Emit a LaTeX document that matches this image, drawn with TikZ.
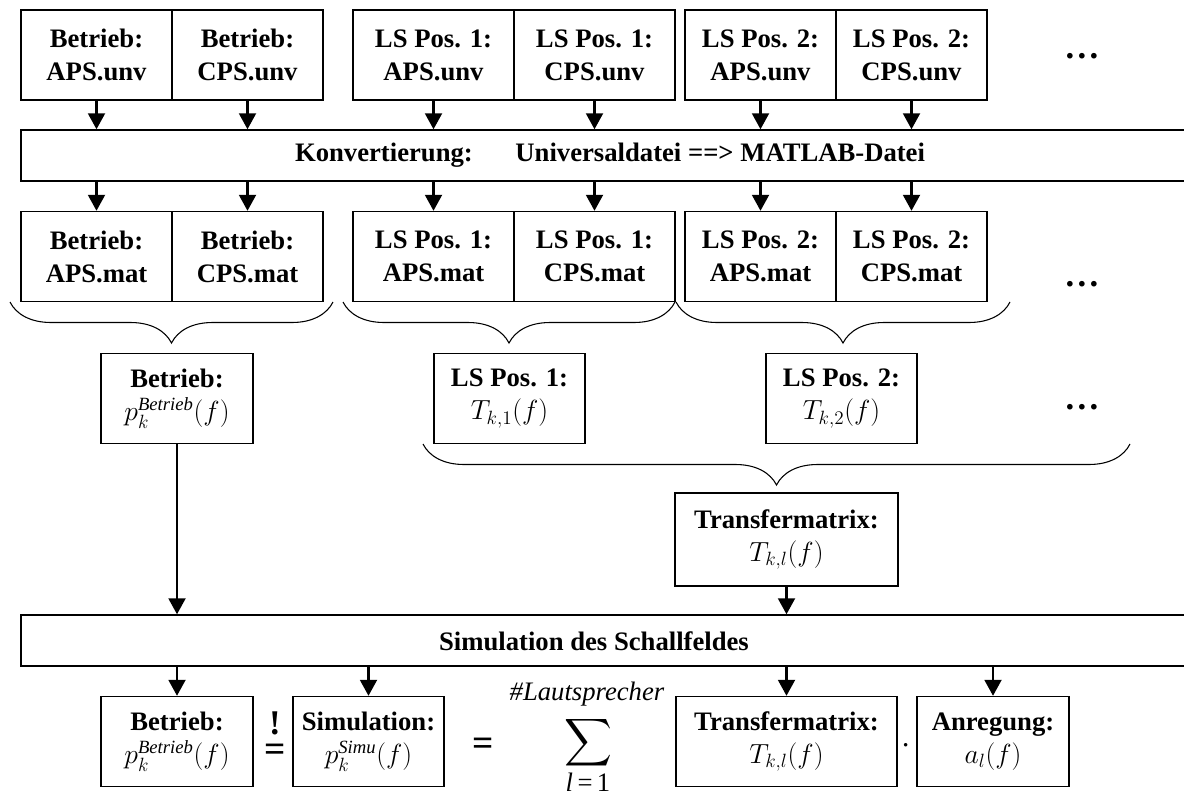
\documentclass[tikz,border=0pt]{standalone}
\usepackage{amsmath}
\usepackage{fontspec}
\setmainfont{Liberation Serif}
\usetikzlibrary{arrows.meta,decorations.pathreplacing}

\newcommand{\diafont}{\fontsize{20}{24.75}\selectfont}
\newcommand{\ldotsbig}{{\fontsize{26}{26}\selectfont\bfseries .\kern2.5pt.\kern2.5pt.}}
\tikzset{
  cell/.style={draw, line width=1pt, minimum height=67.5pt, inner sep=0pt, align=center, font=\diafont\bfseries},
  bar/.style={draw, line width=1pt, minimum width=883.5pt, minimum height=38.25pt, inner sep=0pt},
  arr/.style={line width=2.2pt, -{Triangle[width=12.5pt,length=12pt]}},
  brc/.style={decorate, decoration={brace, amplitude=30.75pt}, line width=0.8pt},
  sym/.style={inner sep=0pt},
}

\begin{document}
\begin{tikzpicture}[x=0.75pt,y=0.75pt,yscale=-1,xscale=1, font=\diafont]
\clip (0,0) rectangle (1184,796);

% Universal files
\node[cell, minimum width=113.25pt] (aunv1) at (96.5,55) {Betrieb:\\APS.unv};
\node[cell, minimum width=113.25pt] (cunv1) at (247.5,55) {Betrieb:\\CPS.unv};
\node[cell, minimum width=120.75pt] (aunv2) at (433.5,55) {LS Pos. 1:\\APS.unv};
\node[cell, minimum width=120.75pt] (cunv2) at (594.5,55) {LS Pos. 1:\\CPS.unv};
\node[cell, minimum width=113.25pt] (aunv3) at (760.5,55) {LS Pos. 2:\\APS.unv};
\node[cell, minimum width=113.25pt] (cunv3) at (911.5,55) {LS Pos. 2:\\CPS.unv};
% Text Node
\node[sym] (dotsa) at (1082,56) {\ldotsbig};

% Conversion bar
\node[bar] (konv) at (610,155.5) {};
% Text Node
\node (konvtxt) at (610,155.5) {\bfseries Konvertierung:\hspace{1.6em}Universaldatei ==> MATLAB-Datei};

% MATLAB files
\node[cell, minimum width=113.25pt] (amat1) at (96.5,256.5) {Betrieb:\\APS.mat};
\node[cell, minimum width=113.25pt] (cmat1) at (247.5,256.5) {Betrieb:\\CPS.mat};
\node[cell, minimum width=120.75pt] (amat2) at (433.5,256.5) {LS Pos. 1:\\APS.mat};
\node[cell, minimum width=120.75pt] (cmat2) at (594.5,256.5) {LS Pos. 1:\\CPS.mat};
\node[cell, minimum width=113.25pt] (amat3) at (760.5,256.5) {LS Pos. 2:\\APS.mat};
\node[cell, minimum width=113.25pt] (cmat3) at (911.5,256.5) {LS Pos. 2:\\CPS.mat};
% Text Node
\node[sym] (dotsb) at (1082,284) {\ldotsbig};

%Straight Lines
\draw[arr] (aunv1.south) -- (aunv1.south |- konv.north);
\draw[arr] (cunv1.south) -- (cunv1.south |- konv.north);
\draw[arr] (aunv2.south) -- (aunv2.south |- konv.north);
\draw[arr] (cunv2.south) -- (cunv2.south |- konv.north);
\draw[arr] (aunv3.south) -- (aunv3.south |- konv.north);
\draw[arr] (cunv3.south) -- (cunv3.south |- konv.north);
\draw[arr] (amat1.north |- konv.south) -- (amat1.north);
\draw[arr] (cmat1.north |- konv.south) -- (cmat1.north);
\draw[arr] (amat2.north |- konv.south) -- (amat2.north);
\draw[arr] (cmat2.north |- konv.south) -- (cmat2.north);
\draw[arr] (amat3.north |- konv.south) -- (amat3.north);
\draw[arr] (cmat3.north |- konv.south) -- (cmat3.north);

%Shape: Brace
\draw[brc] (333,302) -- (10,302);
\draw[brc] (675,302) -- (343,302);
\draw[brc] (1010,302) -- (676,302);

% Spectra and transfer functions
\node[cell, minimum width=114pt] (pbet) at (177,398.5) {Betrieb:\\$p_k^{\mathit{Betrieb}}(f)$};
\node[cell, minimum width=113.25pt] (tls1) at (509.5,398.5) {LS Pos. 1:\\$T_{k,1}(f)$};
\node[cell, minimum width=113.25pt] (tls2) at (841.5,398.5) {LS Pos. 2:\\$T_{k,2}(f)$};
% Text Node
\node[sym] (dotsc) at (1082,407) {\ldotsbig};

%Shape: Brace
\draw[brc] (1130,444) -- (423,444);

\node[cell, minimum width=167.25pt, minimum height=69.75pt] (tmat) at (786.5,539.5) {Transfermatrix:\\$T_{k,l}(f)$};

% Simulation bar
\node[bar] (sim) at (610,640.5) {};
% Text Node
\node (simtxt) at (594,641) {\bfseries Simulation des Schallfeldes};

%Straight Lines
\draw[arr] (pbet.south) -- (pbet.south |- sim.north);
\draw[arr] (tmat.south) -- (tmat.south |- sim.north);

% Result
\node[cell, minimum width=114pt] (pbetb) at (177,741.5) {Betrieb:\\$p_k^{\mathit{Betrieb}}(f)$};
\node[cell, minimum width=113.25pt] (psim) at (368.5,741.5) {Simulation:\\$p_k^{\mathit{Simu}}(f)$};
\node[cell, minimum width=165.75pt] (tmatb) at (786.5,741.5) {Transfermatrix:\\$T_{k,l}(f)$};
\node[cell, minimum width=114pt] (anr) at (993,741.5) {Anregung:\\$a_l(f)$};

%Straight Lines
\draw[arr] (pbetb.north |- sim.south) -- (pbetb.north);
\draw[arr] (psim.north |- sim.south) -- (psim.north);
\draw[arr] (tmatb.north |- sim.south) -- (tmatb.north);
\draw[arr] (anr.north |- sim.south) -- (anr.north);

% Text Node
\node[sym, font=\fontsize{26}{26}\selectfont\bfseries] (bang) at (275,723) {!};
\node[sym, font=\fontsize{28}{28}\selectfont\bfseries] (eqa) at (275,753) {=};
\node[sym, font=\fontsize{28}{28}\selectfont\bfseries] (eqb) at (483,747) {=};
\node[sym] (sumsym) at (588,743) {\fontsize{40}{40}\selectfont$\displaystyle\sum$};
\node[sym] (sumtop) at (587,694) {\textit{\#Lautsprecher}};
\node[sym] (sumbot) at (588,782) {\textit{l}\,=\,1};
\node[sym, font=\fontsize{28}{28}\selectfont\bfseries] (mult) at (906,746) {$\cdot$};

\end{tikzpicture}
\end{document}
